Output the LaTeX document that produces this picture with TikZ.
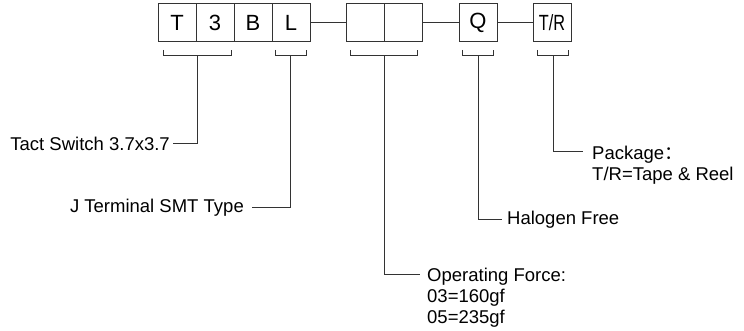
\documentclass[tikz,border=0pt]{standalone}
\usepackage{fontspec}
\usepackage{graphicx}
\setmainfont{Liberation Sans}
\newfontfamily\cjkfont{Noto Sans CJK SC}
\usetikzlibrary{positioning,calc}
\definecolor{wire}{HTML}{333333}

\tikzset{
  cell/.style={draw=wire, line width=1pt, minimum width=38pt, minimum height=38pt,
    inner sep=0pt, font=\fontsize{22}{26}\selectfont},
  note/.style={inner xsep=3pt, inner ysep=0pt, font=\fontsize{18.5}{21}\selectfont},
  wires/.style={draw=wire, line width=1pt},
}

\begin{document}
\begin{tikzpicture}[x=1pt, y=-1pt]
      \useasboundingbox (0,0) rectangle (744,331);

      % part number cells
      \node[cell] (t)  at (177,23) {T};
      \node[cell] (three) at (215,23) {3};
      \node[cell] (b)  at (253,23) {B};
      \node[cell] (l)  at (291,23) {L};
      \node[cell] (fa) at (365,23) {};
      \node[cell] (fb) at (403,23) {};
      \node[cell] (q)  at (478,23) {Q};
      \node[cell] (tr) at (552,23) {\scalebox{0.74}[1]{T/R}};

      \draw[wires] (l) -- (fa);
      \draw[wires] (fb) -- (q);
      \draw[wires] (q) -- (tr);

      % brackets under the cells
      \draw[wires] (163,50) -- (163,56) -- (231,56) -- (231,50);
      \draw[wires] (275,50) -- (275,56) -- (306,56) -- (306,50);
      \draw[wires] (350,50) -- (350,56) -- (417,56) -- (417,50);
      \draw[wires] (462,50) -- (462,56) -- (493,56) -- (493,50);
      \draw[wires] (537,50) -- (537,56) -- (568,56) -- (568,50);
      \coordinate (b1) at (197,56);
      \coordinate (b2) at (290,56);
      \coordinate (b3) at (384,56);
      \coordinate (b4) at (478,56);
      \coordinate (b5) at (553,56);

      % labels
      \node[note, anchor=east] (tact) at (173,144) {Tact Switch 3.7x3.7};
      \node[note, anchor=east, inner xsep=8pt] (jterm) at (252,208) {J Terminal SMT Type};
      \node[note, anchor=west, inner xsep=5pt] (halo) at (502,220) {Halogen Free};
      \node[note, anchor=north west, inner xsep=7pt, align=left] (force) at (420,267.5)
        {Operating Force:\\03=160gf\\05=235gf};
      \node[note, anchor=north west, inner xsep=9pt, align=left] (pkg) at (583,145.5)
        {Package{\cjkfont ：}\\T/R=Tape \& Reel};

      \draw[wires] (b1) |- (tact.east);
      \draw[wires] (b2) |- (jterm.east);
      \draw[wires] (b3) |- ([yshift=-6.5pt]force.north west);
      \draw[wires] (b4) |- (halo.west);
      \draw[wires] (b5) |- ([yshift=-6.5pt]pkg.north west);
    \end{tikzpicture}
\end{document}
